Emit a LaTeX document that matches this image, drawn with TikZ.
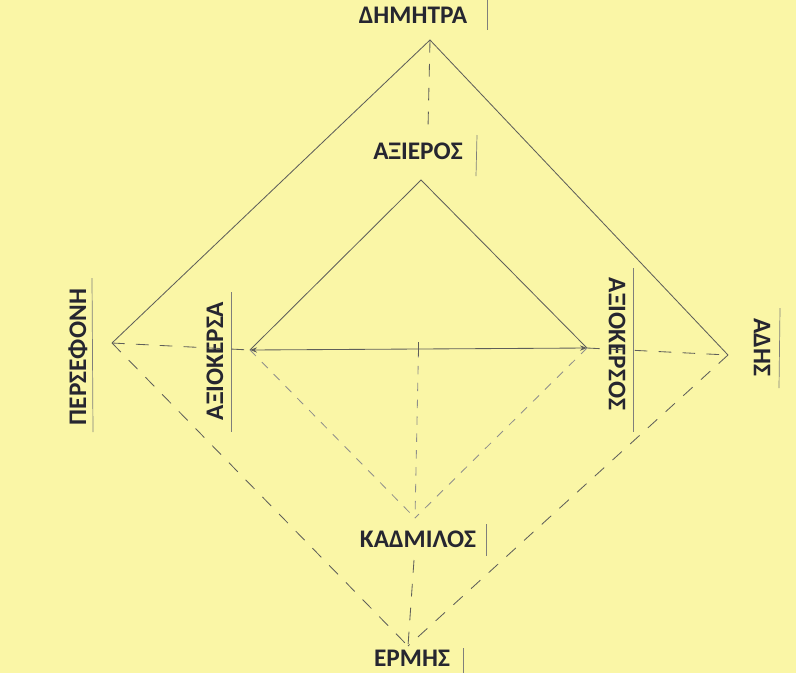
\documentclass[tikz,border=0pt]{standalone}
\usepackage{fontspec}
\setmainfont{Carlito}
\usetikzlibrary{calc,arrows.meta}
\definecolor{paper}{RGB}{250,246,166}
\definecolor{pencil}{RGB}{95,95,90}
\definecolor{ink}{RGB}{38,38,48}
\tikzset{
  godname/.style = {font=\bfseries\fontsize{18}{20}\selectfont, text=ink, inner sep=0pt},
  bar/.style = {draw=pencil!80, line width=0.5pt},
  solidline/.style = {draw=pencil, line width=0.6pt},
  longdash/.style = {draw=pencil, line width=0.6pt, dash pattern=on 9pt off 8pt},
  shortdash/.style = {draw=pencil!70, line width=0.6pt, dash pattern=on 6pt off 6pt}
}
\begin{document}
\begin{tikzpicture}[x=0.025cm, y=-0.025cm]
      \fill [paper] (0, 0) rectangle (796, 673);
      \useasboundingbox (0, 0) rectangle (796, 673);
      % corners
      \coordinate (dimitra) at (430, 40);
      \coordinate (axieros) at (421, 180);
      \coordinate (persefoni) at (112, 343);
      \coordinate (axiokersa) at (250, 350);
      \coordinate (axiokersos) at (587, 348);
      \coordinate (adis) at (728, 355);
      \coordinate (kadmilos) at (415, 518);
      \coordinate (ermis) at (408, 646);
      \coordinate (mid) at ($(axiokersa)!0.5!(axiokersos)$);
      % names
      \node[godname] (ldimitra) at (413, 15) {ΔΗΜΗΤΡΑ};
      \node[godname] (laxieros) at (418, 151) {ΑΞΙΕΡΟΣ};
      \node[godname, rotate=90] (lpersefoni) at (78, 357) {ΠΕΡΣΕΦΟΝΗ};
      \node[godname, rotate=90] (laxiokersa) at (215, 361) {ΑΞΙΟΚΕΡΣΑ};
      \node[godname, rotate=-90] (laxiokersos) at (617, 344) {ΑΞΙΟΚΕΡΣΟΣ};
      \node[godname, rotate=-90] (ladis) at (762, 347) {ΑΔΗΣ};
      \node[godname] (lkadmilos) at (418, 539) {ΚΑΔΜΙΛΟΣ};
      \node[godname] (lermis) at (412, 658) {ΕΡΜΗΣ};
      \coordinate (axierostop) at (428, 128);
      \coordinate (kadmilosfoot) at (414, 560);
      % bars beside the names
      \draw[bar] (487, 0) -- (487, 30);
      \draw[bar] (477, 135) -- (476, 176);
      \draw[bar] (92, 278) -- (93, 432);
      \draw[bar] (231, 292) -- (231, 432);
      \draw[bar] (633, 268) -- (633, 432);
      \draw[bar] (780, 308) -- (779, 388);
      \draw[bar] (486, 524) -- (486, 556);
      \draw[bar] (463, 648) -- (463, 673);
      % outer square
      \draw[solidline] (persefoni) -- (dimitra) -- (adis);
      \draw[longdash] (persefoni) -- (ermis);
      \draw[longdash] (adis) -- (ermis);
      \draw[longdash] (dimitra) -- (axierostop);
      \draw[longdash] (persefoni) -- (axiokersa);
      \draw[longdash] (axiokersos) -- (adis);
      % inner triangle
      \draw[solidline] (axiokersa) -- (axieros) -- (axiokersos);
      \draw[solidline, {Stealth[length=5pt]}-{Stealth[length=5pt]}] (axiokersa) -- (axiokersos);
      \draw[shortdash] (axiokersa) -- (kadmilos);
      \draw[shortdash] (axiokersos) -- (kadmilos);
      \draw[shortdash] (mid) -- (kadmilos);
      \draw[pencil] ($(mid)+(0,-7)$) -- ($(mid)+(0,7)$);
      \draw[longdash] (kadmilosfoot) -- (ermis);
\end{tikzpicture}
\end{document}
